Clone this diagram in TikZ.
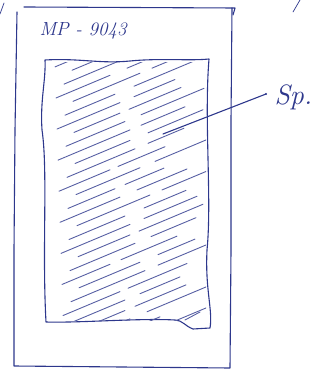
\documentclass[tikz,border=0pt]{standalone}
\begin{document}
\begin{tikzpicture}[x=1pt,y=-1pt,
  ink/.style={draw=inkblue,line width=1.1pt,line cap=round,line join=round},
  hatch/.style={draw=inkblue!80,line width=0.9pt,line cap=round},
  hand/.style={text=inkblue,font=\itshape}]
\definecolor{inkblue}{RGB}{45,55,140}
\useasboundingbox (0,0) rectangle (332,371);
% scan edge strokes
\draw[ink,line width=0.7pt] (0,14) -- (4,3);
\draw[ink,line width=0.7pt] (293,12) -- (300,0);
% outer frame
\draw[ink] (24,7) -- (235,8) -- (233,15);
\draw[ink] (17,12) -- (15,130) -- (14,250) -- (14,366) -- (230,368) -- (231,250) -- (231,120) -- (232,8);
\node[hand,font=\itshape\fontsize{19}{21}\selectfont,anchor=west] (lbl) at (36,31) {MP - 9043};
% inner sheet
\draw[ink] (45,60) .. controls (80,58) and (100,64) .. (130,61)
  .. controls (160,58) and (190,61) .. (209,59)
  .. controls (204,120) and (212,200) .. (207,250)
  .. controls (205,290) and (213,310) .. (210,328)
  -- (193,329) .. controls (185,326) and (182,320) .. (175,320)
  .. controls (140,318) and (80,323) .. (46,322)
  .. controls (42,250) and (48,170) .. (42,130)
  .. controls (40,100) and (46,80) .. (45,60) -- cycle;
\begin{scope}
\clip (47,63) rectangle (206,320);
\foreach \k in {0,...,30}{
  \pgfmathsetmacro{\yo}{70+\k*10.5}
  \pgfmathsetmacro{\aa}{55+mod(\k*17,25)}
  \pgfmathsetmacro{\bb}{\aa+45+mod(\k*13,30)}
  \pgfmathsetmacro{\cc}{\bb+8+mod(\k*7,12)}
  \pgfmathsetmacro{\dd}{\cc+35+mod(\k*11,30)}
  \draw[hatch] (\aa,\yo-0.42*\aa+20) -- (\bb,\yo-0.42*\bb+20);
  \draw[hatch] (\cc,\yo-0.42*\cc+20) -- (\dd,\yo-0.42*\dd+20);
}
\end{scope}
\draw[hatch] (185,320) -- (200,312);
% leader and label
\coordinate (lp) at (163,134);
\coordinate (le) at (266,94);
\draw[ink] (lp) -- (le);
\fill[inkblue] (le) circle (1.2pt);
\node[hand,font=\itshape\fontsize{28}{30}\selectfont,anchor=west] (sp) at (271,97) {Sp.};
\end{tikzpicture}
\end{document}
